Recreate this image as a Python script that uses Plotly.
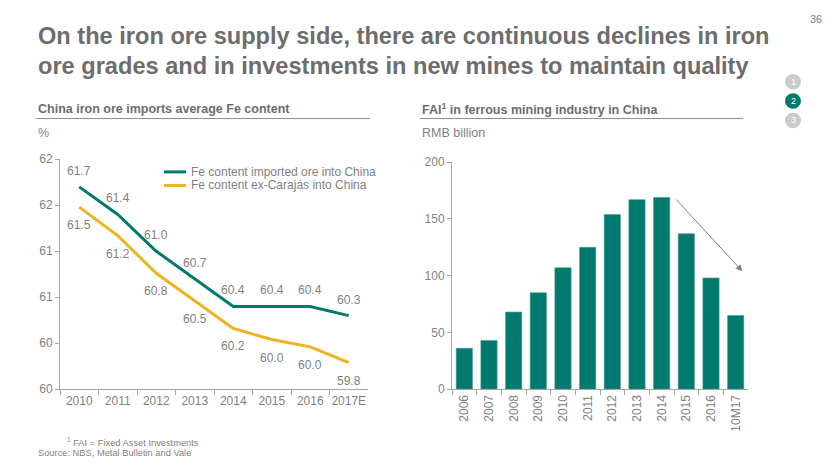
import plotly.graph_objects as go

W, H = 830, 467

# ---------------- data ----------------
years = ["2010", "2011", "2012", "2013", "2014", "2015", "2016", "2017E"]
fe_imported = [61.7, 61.4, 61.0, 60.7, 60.4, 60.4, 60.4, 60.3]
fe_carajas = [61.48, 61.17, 60.76, 60.46, 60.16, 60.04, 59.96, 59.79]
fe_carajas_labels = [61.5, 61.2, 60.8, 60.5, 60.2, 60.0, 60.0, 59.8]
left_ticks = [59.5, 60.0, 60.5, 61.0, 61.5, 62.0]
left_ticktext = ["60", "60", "61", "61", "62", "62"]
series_names = ["Fe content imported ore into China", "Fe content ex-Carajás into China"]

fai_years = ["2006", "2007", "2008", "2009", "2010", "2011", "2012", "2013",
             "2014", "2015", "2016", "10M17"]
fai_values = [36, 43, 68, 85, 107, 125, 154, 167, 169, 137, 98, 65]
right_ticks = [0, 50, 100, 150, 200]

# ---------------- style ----------------
TEAL = "#007A6F"
YELLOW = "#F0B21E"
GREY_TXT = "#7F7F7F"
TITLE_GREY = "#6D6D6D"
AXIS_GREY = "#A6A6A6"
FONT = "Liberation Sans, Arial, sans-serif"


def px(x):
    return x / W


def py(y):
    return 1 - y / H


fig = go.Figure()

fig.add_trace(go.Scatter(
    x=years, y=fe_imported, mode="lines", name=series_names[0], showlegend=False,
    line=dict(color=TEAL, width=3), xaxis="x", yaxis="y"))
fig.add_trace(go.Scatter(
    x=years, y=fe_carajas, mode="lines", name=series_names[1], showlegend=False,
    line=dict(color=YELLOW, width=3), xaxis="x", yaxis="y"))

fig.add_trace(go.Bar(
    x=fai_years, y=fai_values, marker=dict(color=TEAL, line=dict(color="#4E9E96", width=0.6)),
    width=0.66, showlegend=False, xaxis="x2", yaxis="y2"))

annotations = []
shapes = []
# data labels (category index positions)
for i, v in enumerate(fe_imported):
    annotations.append(dict(x=i, y=v, xref="x", yref="y", text=f"{v:.1f}", showarrow=False,
                            yshift=16, font=dict(size=12, color=GREY_TXT)))
for i, (v, lab) in enumerate(zip(fe_carajas, fe_carajas_labels)):
    annotations.append(dict(x=i, y=v, xref="x", yref="y", text=f"{lab:.1f}", showarrow=False,
                            yshift=-18, font=dict(size=12, color=GREY_TXT)))

# legend (drawn manually for compact spacing)
for k, (name, col) in enumerate(zip(series_names, [TEAL, YELLOW])):
    ly = 170 + 14 * k
    shapes.append(dict(type="line", xref="paper", yref="paper", x0=px(164), x1=px(186),
                       y0=py(ly), y1=py(ly), line=dict(color=col, width=3)))
    annotations.append(dict(x=px(189), y=py(ly), xref="paper", yref="paper", xanchor="left",
                            yanchor="middle", showarrow=False, text=name,
                            font=dict(size=12, color=GREY_TXT)))

# arrow on bar chart
annotations.append(dict(x=11.27, y=104, ax=8.53, ay=168.5, xref="x2", yref="y2",
                        axref="x2", ayref="y2", showarrow=True, arrowhead=2,
                        arrowsize=1.3, arrowwidth=1, arrowcolor="#7F7F7F", text=""))

# title
for txt, ty in [("On the iron ore supply side, there are continuous declines in iron", 30),
                ("ore grades and in investments in new mines to maintain quality", 61)]:
    annotations.append(dict(x=px(36), y=py(ty), xref="paper", yref="paper", xanchor="left",
                            yanchor="middle", showarrow=False, text=txt,
                            font=dict(family="Liberation Sans Narrow, Arial Narrow, sans-serif",
                                      size=23.6, color=TITLE_GREY, weight="bold")))
# page number
annotations.append(dict(x=px(824), y=py(12), xref="paper", yref="paper", xanchor="right",
                        yanchor="middle", showarrow=False, text="36",
                        font=dict(size=11, color=GREY_TXT)))
# subtitles
annotations.append(dict(x=px(36), y=py(105), xref="paper", yref="paper", xanchor="left",
                        yanchor="middle", showarrow=False,
                        text="<b>China iron ore imports average Fe content</b>",
                        font=dict(size=12.5, color=TITLE_GREY)))
annotations.append(dict(x=px(420), y=py(105), xref="paper", yref="paper", xanchor="left",
                        yanchor="middle", showarrow=False,
                        text="<b>FAI<sup>1</sup> in ferrous mining industry in China</b>",
                        font=dict(size=12.5, color=TITLE_GREY)))
annotations.append(dict(x=px(36), y=py(130), xref="paper", yref="paper", xanchor="left",
                        yanchor="middle", showarrow=False, text="%",
                        font=dict(size=12.5, color=GREY_TXT)))
annotations.append(dict(x=px(420), y=py(130), xref="paper", yref="paper", xanchor="left",
                        yanchor="middle", showarrow=False, text="RMB billion",
                        font=dict(size=12.5, color=GREY_TXT)))
# footnotes
annotations.append(dict(x=px(65), y=py(448), xref="paper", yref="paper", xanchor="left",
                        yanchor="middle", showarrow=False,
                        text="<sup>1</sup> FAI = Fixed Asset Investments",
                        font=dict(size=9.3, color=GREY_TXT)))
annotations.append(dict(x=px(36), y=py(460), xref="paper", yref="paper", xanchor="left",
                        yanchor="middle", showarrow=False,
                        text="Source: NBS, Metal Bulletin and Vale",
                        font=dict(size=9.3, color=GREY_TXT)))

shapes += [
    dict(type="line", xref="paper", yref="paper", x0=px(36), x1=px(370), y0=py(115), y1=py(115),
         line=dict(color="#8C8C8C", width=1)),
    dict(type="line", xref="paper", yref="paper", x0=px(420), x1=px(743), y0=py(115), y1=py(115),
         line=dict(color="#8C8C8C", width=1)),
]
# page navigation circles
for i, (cy, col) in enumerate([(77, "#CBCBCB"), (97, TEAL), (117, "#CBCBCB")]):
    r = 8
    shapes.append(dict(type="circle", xref="paper", yref="paper",
                       x0=px(793 - r), x1=px(793 + r), y0=py(cy + r), y1=py(cy - r),
                       fillcolor=col, line=dict(width=0)))
    annotations.append(dict(x=px(793), y=py(cy), xref="paper", yref="paper", showarrow=False,
                            xanchor="center", yanchor="middle",
                            text=str(i + 1), font=dict(size=9, color="white")))

axis_common = dict(showgrid=False, zeroline=False, showline=True, linecolor=AXIS_GREY,
                   linewidth=1, ticks="outside", tickcolor=AXIS_GREY, ticklen=4,
                   tickfont=dict(size=12, color=GREY_TXT))

fig.update_layout(
    width=W, height=H, margin=dict(l=0, r=0, t=0, b=0),
    paper_bgcolor="white", plot_bgcolor="white",
    font=dict(family=FONT, color=GREY_TXT),
    showlegend=False,
    xaxis=dict(axis_common, domain=[px(60), px(368)], type="category", tickson="boundaries",
               ticklen=5, tickangle=0, range=[-0.5, 7.5], anchor="y"),
    yaxis=dict(axis_common, domain=[py(394), py(157)], range=[59.5, 62],
               tickvals=left_ticks, ticktext=left_ticktext, anchor="x"),
    xaxis2=dict(axis_common, domain=[px(452), px(748)], type="category", tickson="boundaries",
                ticklen=5, tickangle=-90, range=[-0.5, 11.5], anchor="y2"),
    yaxis2=dict(axis_common, domain=[py(394), py(160)], range=[0, 200],
                tickvals=right_ticks, anchor="x2"),
    annotations=annotations, shapes=shapes,
)

post = """
var s = document.createElement('style');
s.textContent = 'html,body{margin:0;padding:0;overflow:hidden;width:830px;height:467px;}'
  + '.plotly-graph-div{position:fixed;top:0;left:0;}';
document.head.appendChild(s);
"""

fig.write_html("out.html", post_script=post)
